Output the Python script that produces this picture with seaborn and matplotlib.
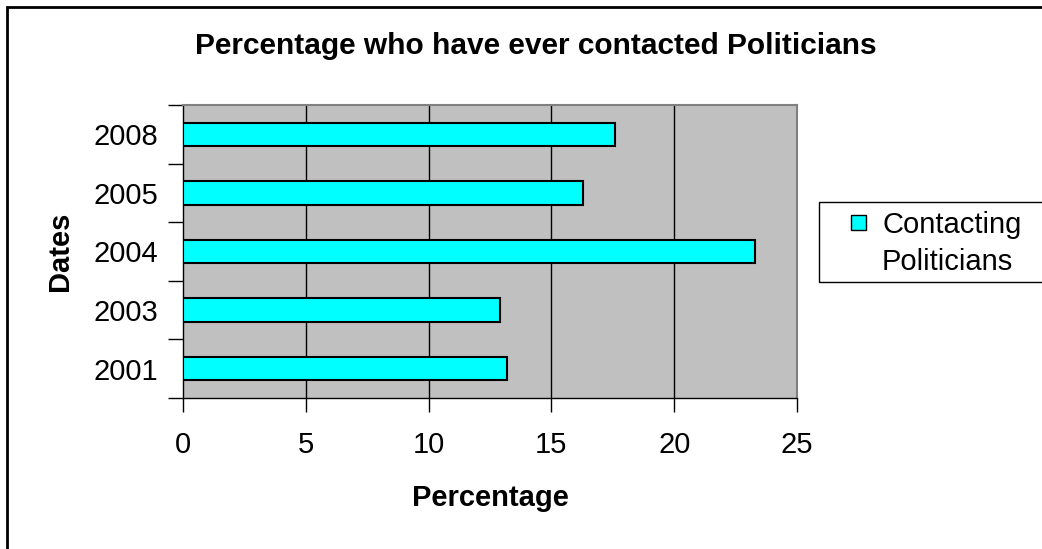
import matplotlib
matplotlib.use("Agg")
import matplotlib.pyplot as plt
import seaborn as sns
import pandas as pd
from matplotlib.patches import Rectangle, Patch
from matplotlib.legend_handler import HandlerPatch

years = ["2008", "2005", "2004", "2003", "2001"]
values = [17.6, 16.3, 23.3, 12.9, 13.2]
x_ticks = [0, 5, 10, 15, 20, 25]
title = "Percentage who have ever contacted Politicians"
xlabel = "Percentage"
ylabel = "Dates"
series_name = "Contacting Politicians"

sns.set_style("white")
plt.rcParams["font.family"] = ["Liberation Sans", "DejaVu Sans"]
plt.rcParams["text.color"] = "black"
plt.rcParams["axes.labelcolor"] = "black"
plt.rcParams["xtick.color"] = "black"
plt.rcParams["ytick.color"] = "black"

df = pd.DataFrame({"Dates": years, "Percentage": values})

W, H = 1042, 549
fig = plt.figure(figsize=(W / 100, H / 100), dpi=100)
fig.patch.set_facecolor("white")
ax = fig.add_axes([183 / W, 1 - 398 / H, (797 - 183) / W, (398 - 105) / H])

sns.barplot(data=df, x="Percentage", y="Dates", orient="h", order=years,
            color="#00FFFF", saturation=1, width=0.4, edgecolor="black",
            linewidth=1.5, ax=ax, zorder=3)

ax.set_facecolor("#C0C0C0")
ax.set_xlim(0, 25)
ax.set_ylim(4.5, -0.5)
ax.set_xticks(x_ticks)
ax.set_xticklabels([str(t) for t in x_ticks], fontsize=21)
ax.tick_params(axis="x", direction="out", length=10, width=1, color="black",
               pad=14, bottom=True, labelcolor="black")
ax.set_yticks(range(len(years)))
ax.set_yticklabels(years, fontsize=21)
ax.tick_params(axis="y", which="major", length=0, pad=18, labelcolor="black")
ax.set_yticks([i - 0.5 for i in range(len(years) + 1)], minor=True)
ax.tick_params(axis="y", which="minor", direction="out", length=11, width=1,
               color="black", left=True)

for v in x_ticks[1:-1]:
    ax.axvline(v, color="black", linewidth=1, zorder=1)
ax.grid(False)

for s in ["left", "bottom"]:
    ax.spines[s].set_color("black")
    ax.spines[s].set_linewidth(1)
for s in ["top", "right"]:
    ax.spines[s].set_color("#808080")
    ax.spines[s].set_linewidth(1.5)
    ax.spines[s].set_visible(True)

ax.set_xlabel(xlabel, fontsize=21, fontweight="bold", labelpad=18, color="black")
ax.set_ylabel(ylabel, fontsize=21, fontweight="bold", labelpad=14, color="black")

fig.text(535.5 / W, 1 - 54 / H, title, ha="center", va="baseline",
         fontsize=21.5, fontweight="bold", color="black")


def square_patch(legend, orig_handle, xdescent, ydescent, width, height, fontsize):
    s = height
    return Rectangle((-xdescent + width - s, -ydescent), s, s)


words = series_name.split(" ")
handles = [Patch(facecolor="#00FFFF", edgecolor="black", linewidth=1),
           Patch(facecolor="none", edgecolor="none")]
leg = fig.legend(handles, words, loc="upper left",
                 bbox_to_anchor=(819 / W, 1 - 202 / H), bbox_transform=fig.transFigure,
                 fontsize=21, frameon=False,
                 handlelength=1.31, handleheight=0.4, handletextpad=0.55,
                 labelspacing=0.3, borderpad=0.3, borderaxespad=0,
                 handler_map={Patch: HandlerPatch(patch_func=square_patch)})
for t in leg.get_texts():
    t.set_color("black")

# legend frame (cut off by the right edge of the picture, as in the original)
fig.patches.append(Rectangle((819 / W, 1 - 282 / H), (1060 - 819) / W, 80 / H,
                             transform=fig.transFigure, fill=False,
                             edgecolor="black", linewidth=1))

# outer chart border (cut off at the right and bottom)
fig.patches.append(Rectangle((7 / W, -0.05), 1.1, (H - 7) / H + 0.05,
                             transform=fig.transFigure, fill=False,
                             edgecolor="black", linewidth=2))

fig.savefig("out.png", dpi=100)
